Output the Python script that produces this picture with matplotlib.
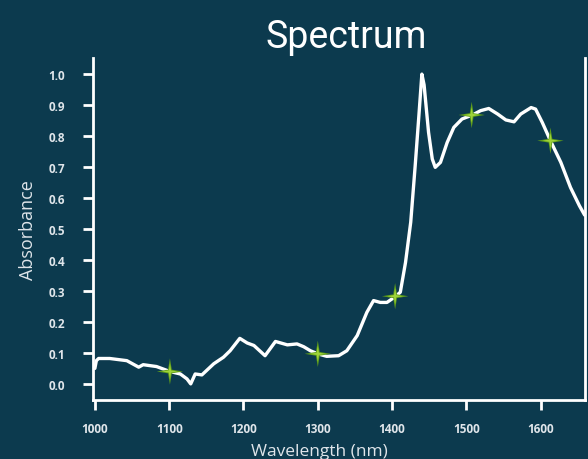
import matplotlib
matplotlib.use("Agg")
import matplotlib.pyplot as plt
from matplotlib.path import Path
import numpy as np

wavelength = [1000, 1002, 1005, 1020, 1043, 1059, 1065, 1083, 1101, 1115, 1124, 1129, 1135,
              1144, 1160, 1173, 1182, 1195, 1205, 1214, 1229, 1243, 1259, 1272, 1281, 1290,
              1300, 1312, 1328, 1339, 1353, 1366, 1375, 1384, 1393, 1405, 1411, 1418, 1425,
              1431, 1436, 1440, 1443, 1449, 1454, 1458, 1465, 1474, 1483, 1494, 1508, 1519,
              1530, 1542, 1553, 1564, 1573, 1587, 1593, 1602, 1613, 1627, 1640, 1652, 1659]
absorbance = [0.05, 0.075, 0.082, 0.082, 0.075, 0.054, 0.062, 0.056, 0.040, 0.032, 0.016, 0.0, 0.032,
              0.029, 0.065, 0.086, 0.107, 0.147, 0.132, 0.124, 0.091, 0.137, 0.126, 0.129, 0.120, 0.107,
              0.097, 0.089, 0.091, 0.107, 0.156, 0.231, 0.269, 0.263, 0.263, 0.283, 0.296, 0.392, 0.522,
              0.704, 0.866, 1.0, 0.965, 0.812, 0.726, 0.699, 0.715, 0.779, 0.828, 0.855, 0.868, 0.882,
              0.889, 0.871, 0.852, 0.846, 0.871, 0.892, 0.887, 0.844, 0.785, 0.715, 0.634, 0.575, 0.545]

star_wl = [1101, 1300, 1404, 1507, 1613]
star_abs = [0.040, 0.097, 0.283, 0.868, 0.785]

xticks = [1000, 1100, 1200, 1300, 1400, 1500, 1600]
yticks = [0.0, 0.1, 0.2, 0.3, 0.4, 0.5, 0.6, 0.7, 0.8, 0.9, 1.0]

bg = "#0c3a4e"
fg = "#ffffff"
tick_col = "#dfe5ea"

fig = plt.figure(figsize=(5.88, 4.6), dpi=100, facecolor=bg)
ax = fig.add_axes([93/588, 59/460, (585-93)/588, (401-59)/460])
ax.set_facecolor(bg)

ax.plot(wavelength, absorbance, color=fg, lw=2.4, solid_joinstyle="round",
        solid_capstyle="round", zorder=3)

# four-point star marker
t = np.linspace(0, 2*np.pi, 9)[:-1]
verts = []
for i, a in enumerate(t):
    r = 1.0 if i % 2 == 0 else 0.2
    verts.append((r*np.cos(a + np.pi/2), r*np.sin(a + np.pi/2)))
verts.append(verts[0])
star = Path(verts, [Path.MOVETO] + [Path.LINETO]*7 + [Path.CLOSEPOLY])
ax.scatter(star_wl, star_abs, marker=star, s=360, color="#5f9e1a", edgecolors="none", zorder=4)
ax.scatter(star_wl, star_abs, marker=star, s=130, color="#9fd33a", edgecolors="none", zorder=5)

ax.set_xlim(997.5, 1659.5)
ax.set_ylim(-0.052, 1.052)
ax.set_xticks(xticks)
ax.set_yticks(yticks)
ax.set_xticklabels([str(v) for v in xticks])
ax.set_yticklabels([f"{v:.1f}" for v in yticks])

for s in ["left", "bottom", "right"]:
    ax.spines[s].set_color(fg)
    ax.spines[s].set_linewidth(2)
ax.spines["top"].set_visible(False)

ax.tick_params(axis="both", colors=fg, width=2, length=7, direction="out",
               labelcolor=tick_col, labelsize=8.5)
ax.tick_params(axis="y", pad=13, right=False)
ax.tick_params(axis="x", pad=9)
for lab in ax.get_xticklabels() + ax.get_yticklabels():
    lab.set_family("Open Sans")
    lab.set_fontweight("bold")

ax.set_xlabel("Wavelength (nm)", color=tick_col, fontsize=12.5, family="Open Sans")
ax.set_ylabel("Absorbance", color=tick_col, fontsize=13, family="Open Sans")
ax.xaxis.set_label_coords(0.46, -0.125)
ax.yaxis.set_label_coords(-0.113, 0.5)

fig.text(0.588, 0.918, "Spectrum", color=fg, fontsize=27,
         family=["Roboto", "DejaVu Sans"], ha="center", va="center")

fig.savefig("out.png", dpi=100, facecolor=bg)
